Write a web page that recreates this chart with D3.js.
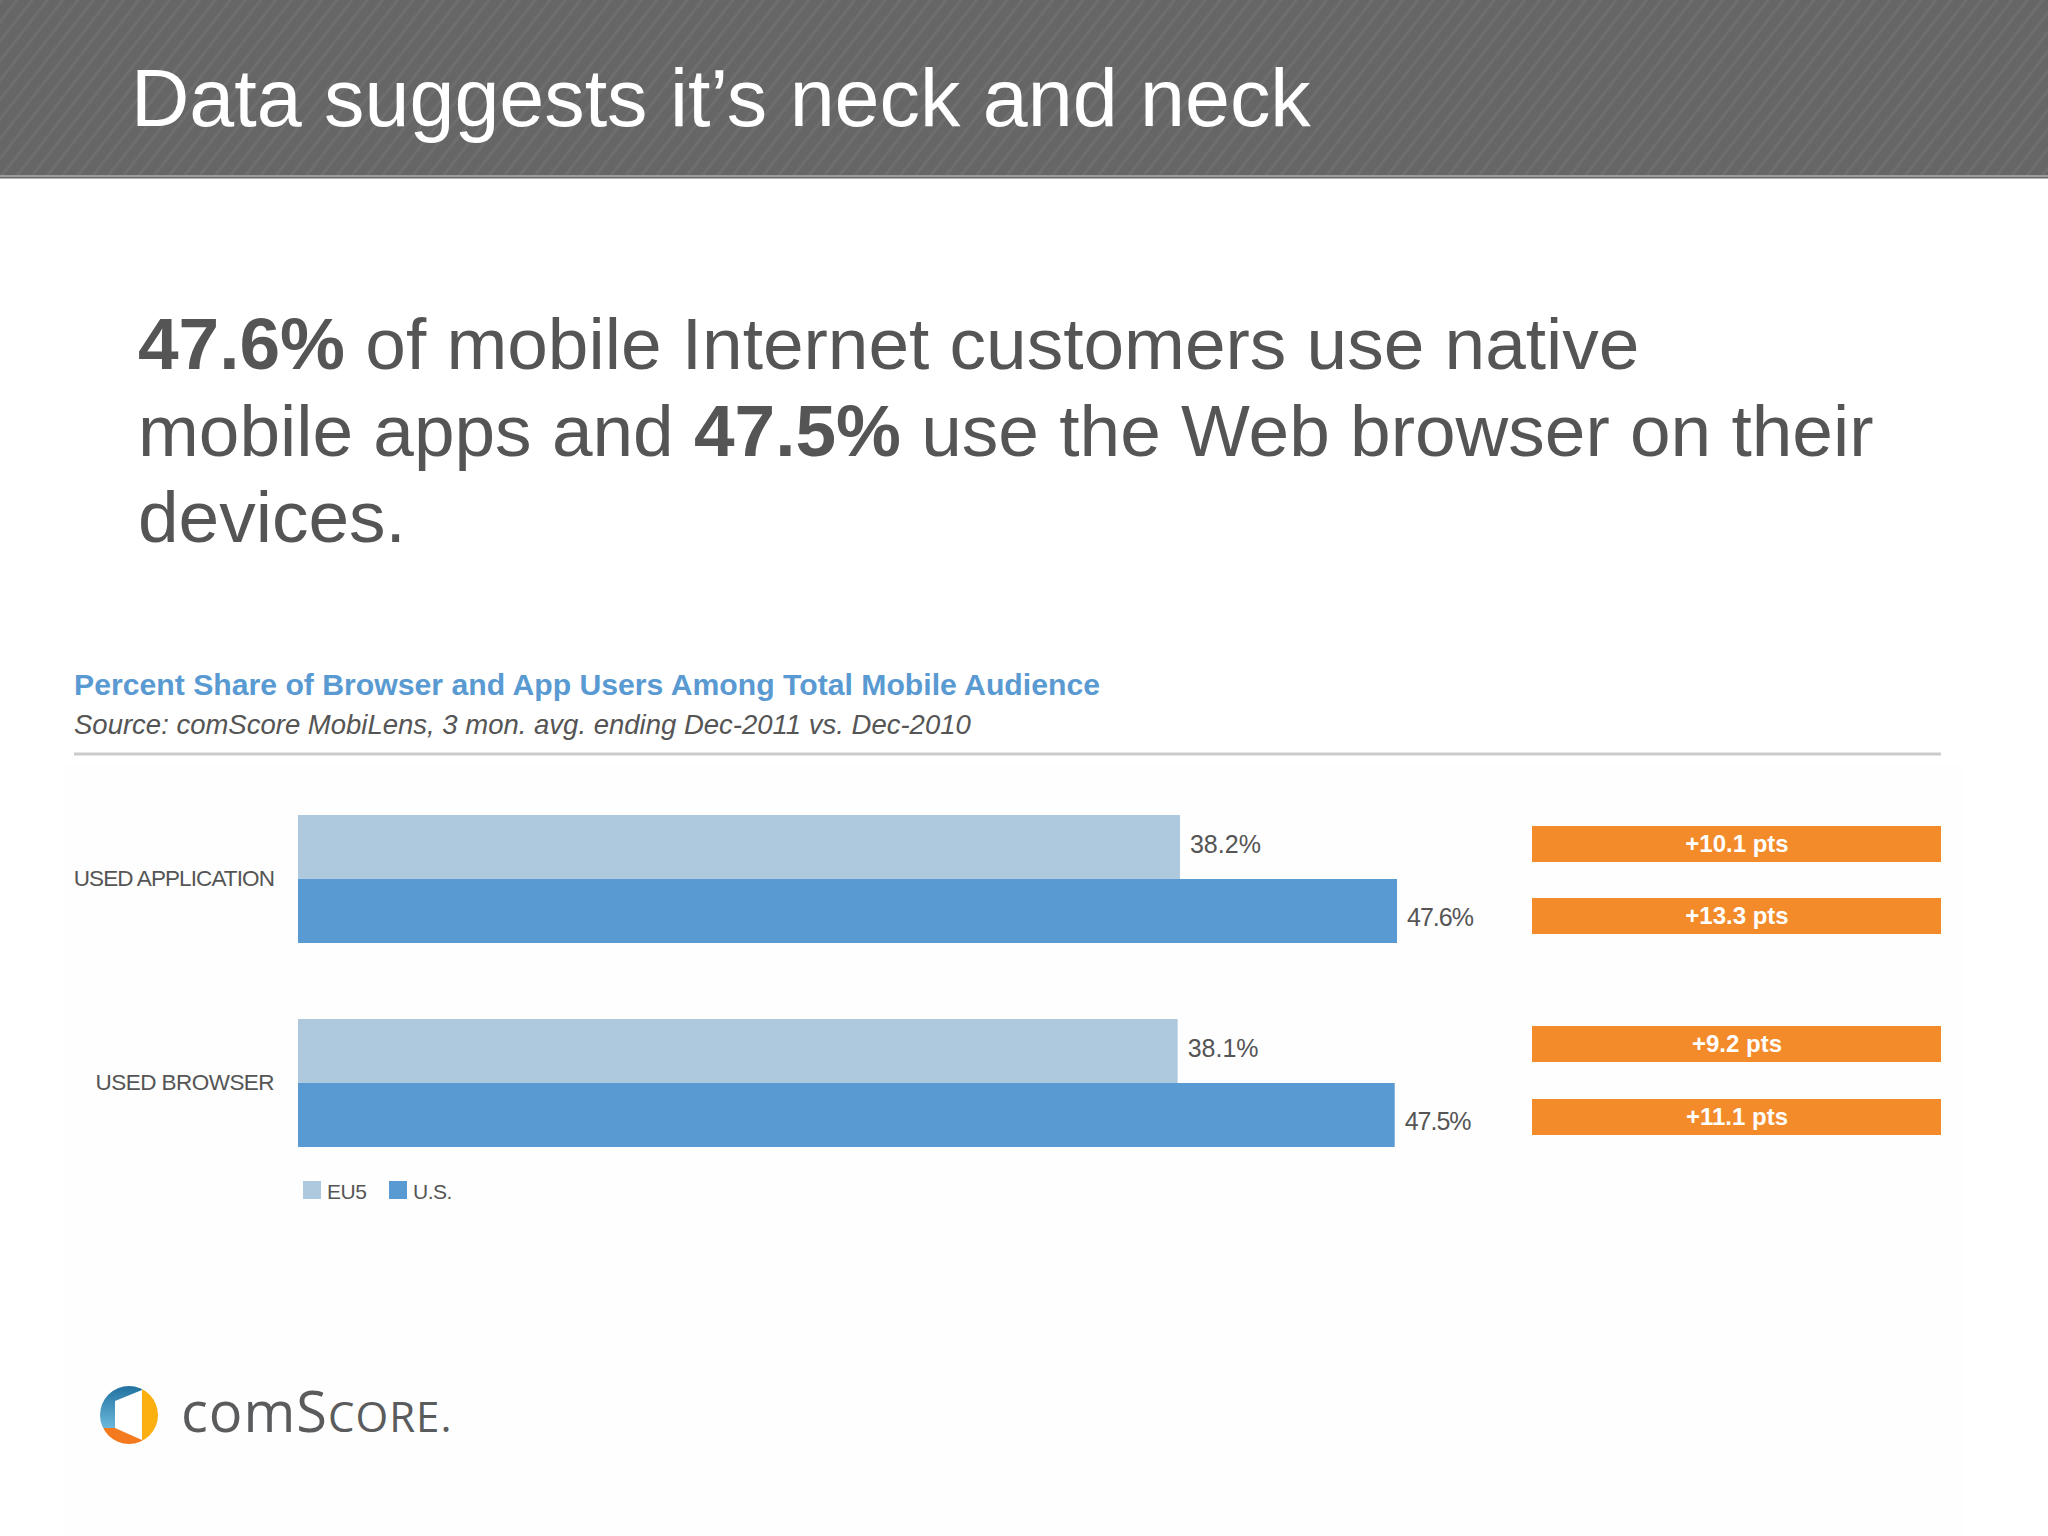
<!DOCTYPE html>
<html>
<head>
<meta charset="utf-8">
<script src="https://cdn.jsdelivr.net/npm/d3@7"></script>
<style>
body{margin:0;background:#fff}
text{font-family:"Liberation Sans",Arial,sans-serif}
</style>
</head>
<body>
<div class="can"></div>
<script>
const categories=["USED APPLICATION","USED BROWSER"];
const seriesNames=["EU5","U.S."];
const eu5Values=[38.2,38.1];
const usValues=[47.6,47.5];
const eu5Pts=[10.1,9.2];
const usPts=[13.3,11.1];
const seriesColors=["#aec8dd","#5a9ad2"];

const svg=d3.select(".can").append("svg")
.attr("width",2048)
.attr("height",1536)
.style("display","block");

// header with the diagonal texture
const pat=svg.append("defs").append("pattern")
.attr("id","stripes")
.attr("width",12)
.attr("height",12)
.attr("patternUnits","userSpaceOnUse")
.attr("patternTransform","rotate(-52)");
pat.append("rect").attr("width",12).attr("height",12).attr("fill","#666");
pat.append("rect").attr("width",12).attr("height",3).attr("fill","#6e6e6e");

svg.append("rect").attr("width",2048).attr("height",175).attr("fill","url(#stripes)");
svg.append("rect").attr("y",175).attr("width",2048).attr("height",2).attr("fill","#9c9c9c");
svg.append("rect").attr("y",177).attr("width",2048).attr("height",1.5).attr("fill","#6a6a6a");

svg.append("text")
.attr("x",131)
.attr("y",126)
.attr("fill","#fff")
.attr("font-size",80.8)
.text("Data suggests it\u2019s neck and neck");

// intro paragraph
const bodyLines=[
 [["47.6%",true],[" of mobile Internet customers use native",false]],
 [["mobile apps and ",false],["47.5%",true],[" use the Web browser on their",false]],
 [["devices.",false]]
];
const body=svg.append("g").attr("fill","#555");
body.selectAll("text").data(bodyLines).join("text")
.attr("x",138)
.attr("y",(d,i)=>369+i*86.5)
.attr("font-size",73)
.selectAll("tspan").data(d=>d).join("tspan")
.attr("font-weight",d=>d[1]?"bold":"normal")
.text(d=>d[0]);

// faint backing of the pasted chart image
svg.append("rect").attr("x",64).attr("y",765).attr("width",1900).attr("height",771).attr("fill","#fefefe");

svg.append("text")
.attr("x",74)
.attr("y",695)
.attr("fill","#5a9ad2")
.attr("font-size",30.2)
.attr("font-weight","bold")
.text("Percent Share of Browser and App Users Among Total Mobile Audience");

svg.append("text")
.attr("x",74)
.attr("y",734)
.attr("fill","#555")
.attr("font-size",27.5)
.attr("font-style","italic")
.text("Source: comScore MobiLens, 3 mon. avg. ending Dec-2011 vs. Dec-2010");

svg.append("line")
.attr("x1",74).attr("x2",1941)
.attr("y1",754).attr("y2",754)
.attr("stroke","#cbcbcb")
.attr("stroke-width",3);

// scales
const x=d3.scaleLinear().domain([0,47.6]).range([298,1397]);
const y=d3.scaleBand().domain(categories).range([815,1147]).paddingInner(76/204);
const ySeries=d3.scaleBand().domain(seriesNames).range([0,y.bandwidth()]);
const color=d3.scaleOrdinal(seriesNames,seriesColors);

const rows=categories.flatMap((c,i)=>[
 {cat:c,name:seriesNames[0],value:eu5Values[i],pts:eu5Pts[i]},
 {cat:c,name:seriesNames[1],value:usValues[i],pts:usPts[i]}
]);

svg.append("g").selectAll("rect").data(rows).join("rect")
.attr("x",x(0))
.attr("y",d=>y(d.cat)+ySeries(d.name))
.attr("width",d=>x(d.value)-x(0))
.attr("height",ySeries.bandwidth())
.attr("fill",d=>color(d.name));

svg.append("g").selectAll("text").data(rows).join("text")
.attr("x",d=>x(d.value)+10)
.attr("y",d=>y(d.cat)+ySeries(d.name)+ySeries.bandwidth()/2+(d.name=="U.S."?6:-3))
.attr("dy","0.35em")
.attr("fill","#555")
.attr("font-size",25)
.style("letter-spacing",d=>d.name=="U.S."?"-1px":"0px")
.text(d=>d.value.toFixed(1)+"%");

// category labels
const yAxis=svg.append("g")
.attr("transform","translate(274,0)")
.call(d3.axisLeft(y).tickSize(0).tickPadding(0));
yAxis.select(".domain").remove();
yAxis.selectAll("text")
.attr("fill","#555")
.attr("font-size",22.5)
.style("font-family",'"Liberation Sans",Arial,sans-serif')
.style("letter-spacing",d=>d=="USED BROWSER"?"-0.55px":"-0.9px");

// change chips on the right
const chipY=d3.scaleOrdinal(rows.map(d=>d.cat+d.name),[826,898,1026,1099]);
const chips=svg.append("g").selectAll("g").data(rows).join("g")
.attr("transform",d=>`translate(1532,${chipY(d.cat+d.name)})`);
chips.append("rect")
.attr("width",409)
.attr("height",36)
.attr("fill","#f38b2b");
chips.append("text")
.attr("x",205)
.attr("y",26)
.attr("text-anchor","middle")
.attr("fill","#fff")
.attr("font-size",24)
.attr("font-weight","bold")
.text(d=>"+"+d.pts+" pts");

// legend
const legendX=d3.scaleOrdinal(seriesNames,[303,389]);
const legend=svg.append("g").selectAll("g").data(seriesNames).join("g")
.attr("transform",d=>`translate(${legendX(d)},1181)`);
legend.append("rect").attr("width",18).attr("height",18).attr("fill",d=>color(d));
legend.append("text")
.attr("x",24)
.attr("y",18)
.attr("fill","#555")
.attr("font-size",21)
.style("letter-spacing","-0.5px")
.text(d=>d);

// comScore logo
const logo=svg.append("g").attr("transform","translate(129,1415)");
const clip=svg.select("defs").append("clipPath").attr("id","logoClip");
clip.append("circle").attr("r",29);
const grad=svg.select("defs").append("linearGradient")
.attr("id","logoBlue").attr("x1",0).attr("y1",0).attr("x2",0).attr("y2",1);
grad.append("stop").attr("offset",0).attr("stop-color","#1f6f9e");
grad.append("stop").attr("offset",1).attr("stop-color","#6cb8dc");
const logoParts=logo.append("g").attr("clip-path","url(#logoClip)");
logoParts.append("rect").attr("x",-30).attr("y",-30).attr("width",43).attr("height",43).attr("fill","url(#logoBlue)");
logoParts.append("rect").attr("x",-30).attr("y",13).attr("width",43).attr("height",17).attr("fill","#f47a1f");
logoParts.append("rect").attr("x",13).attr("y",-30).attr("width",17).attr("height",60).attr("fill","#fbb00f");
logoParts.append("polygon").attr("points","13,-25 -14,-14 -14,13 13,25").attr("fill","#fff");

const logoText=svg.append("text")
.attr("x",181)
.attr("y",1432)
.attr("fill","#5a5b5d")
.style("letter-spacing","1px")
.style("font-family",'"Open Sans",sans-serif');
logoText.append("tspan").attr("font-size",56).text("com");
logoText.append("tspan").attr("font-size",56).text("S");
logoText.append("tspan").attr("font-size",42).text("CORE.");
</script>
</body>
</html>
